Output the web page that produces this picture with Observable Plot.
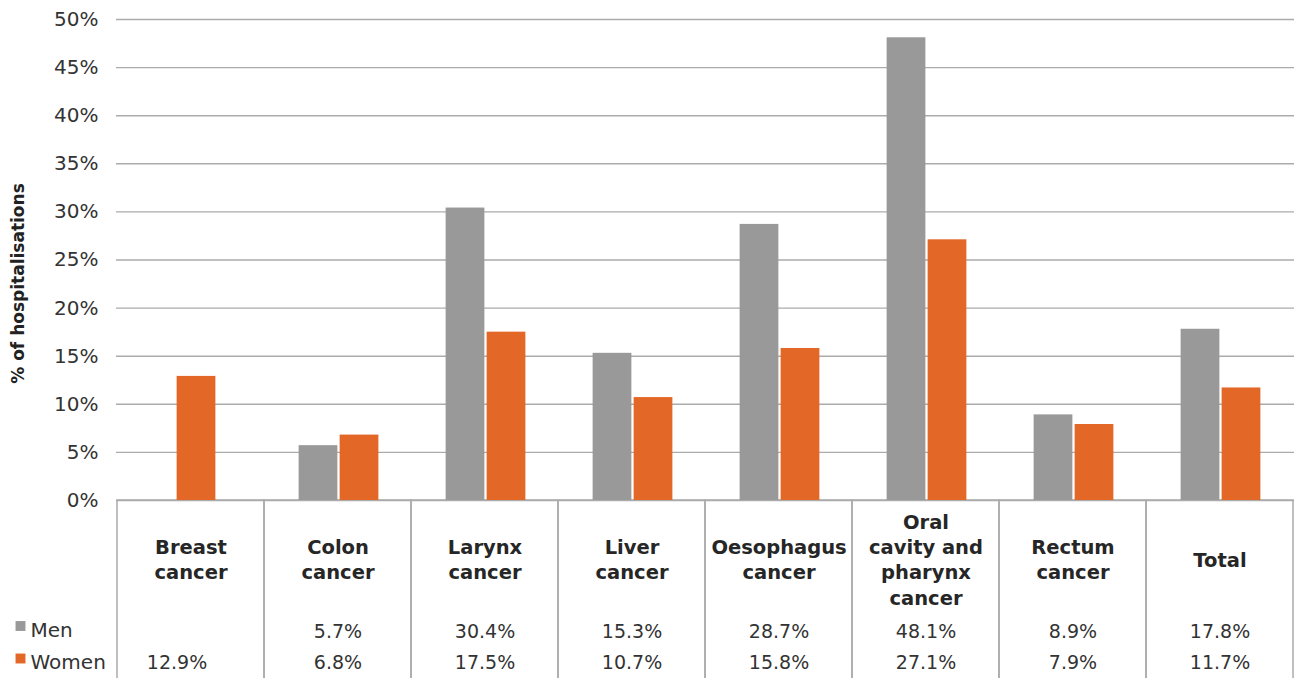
<!DOCTYPE html>
<html>
<head>
<meta charset="utf-8">
<script src="https://cdn.jsdelivr.net/npm/d3@7"></script>
<script src="https://cdn.jsdelivr.net/npm/@observablehq/plot@0.6"></script>
<style>
  html, body { margin: 0; padding: 0; background: #fff; }
  #chart svg { display: block; overflow: visible; }
</style>
</head>
<body>
<div id="chart"></div>
<script>
const categories = ["Breast cancer", "Colon cancer", "Larynx cancer", "Liver cancer", "Oesophagus cancer", "Oral cavity and pharynx cancer", "Rectum cancer", "Total"];
const headerLabels = ["Breast\ncancer", "Colon\ncancer", "Larynx\ncancer", "Liver\ncancer", "Oesophagus\ncancer", "Oral\ncavity and\npharynx\ncancer", "Rectum\ncancer", "Total"];
const menValues = [null, 5.7, 30.4, 15.3, 28.7, 48.1, 8.9, 17.8];
const womenValues = [12.9, 6.8, 17.5, 10.7, 15.8, 27.1, 7.9, 11.7];
const yTicks = [0, 5, 10, 15, 20, 25, 30, 35, 40, 45, 50];
const seriesNames = ["Men", "Women"];
const seriesColors = ["#999999", "#e36828"];
const yLabel = "% of hospitalisations";

const W = 1295, H = 678;
const mL = 116, mR = 1, mT = 19, mB = 178;
const bw = (W - mL - mR) / categories.length;
const barW = 39, gap = 2, shift = 1;
const pxPerUnit = (H - mT - mB) / 50;
const tableBottom = -(mB + 2) / pxPerUnit;

const rows = categories.map((c, i) => ({category: c, header: headerLabels[i], men: menValues[i], women: womenValues[i]}));
const paired = rows.filter(d => d.men != null);
const single = rows.filter(d => d.men == null);
const pct = v => v.toFixed(1) + "%";
const font = "DejaVu Sans, sans-serif";
const textColor = "#333333";

const plot = Plot.plot({
  width: W, height: H,
  marginLeft: mL, marginRight: mR, marginTop: mT, marginBottom: mB,
  style: {fontFamily: font, fontSize: "19px", color: textColor, background: "#fff"},
  x: {type: "band", domain: categories, padding: 0, axis: null},
  y: {domain: [0, 50], axis: null},
  marks: [
    // table cells
    Plot.barY(rows, {x: "category", y1: 0, y2: tableBottom, fill: "none", stroke: "#ababab", strokeWidth: 1.5}),
    Plot.gridY(yTicks, {stroke: "#ababab", strokeOpacity: 1, strokeWidth: 1.4}),
    Plot.axisY({ticks: yTicks, tickFormat: d => d + "%", tickSize: 0, tickPadding: 18, fontSize: 20, fill: textColor, label: null}),
    // bars
    Plot.barY(paired, {x: "category", y: "men", fill: seriesColors[0], insetLeft: bw / 2 - gap / 2 - barW + shift, insetRight: bw / 2 + gap / 2 - shift}),
    Plot.barY(paired, {x: "category", y: "women", fill: seriesColors[1], insetLeft: bw / 2 + gap / 2 + shift, insetRight: bw / 2 - gap / 2 - barW - shift}),
    Plot.barY(single, {x: "category", y: "women", fill: seriesColors[1], insetLeft: bw / 2 - 14, insetRight: bw / 2 - barW + 14}),
    // y label
    Plot.text([yLabel], {frameAnchor: "left", textAnchor: "middle", lineAnchor: "middle", rotate: -90, dx: -98, dy: 23.5, fontWeight: "bold", fontSize: 17, fill: "#222"}),
    // table header
    Plot.text(rows, {x: "category", frameAnchor: "bottom", dy: 58, text: "header", lineAnchor: "middle", fontWeight: "bold", fontSize: 19.5, lineHeight: 1.3, fill: "#262626", style: "letter-spacing:0.6px"}),
    // table values
    Plot.text(paired, {x: "category", frameAnchor: "bottom", dy: 131, text: d => pct(d.men), lineAnchor: "middle", fontSize: 19, fill: textColor}),
    Plot.text(paired, {x: "category", frameAnchor: "bottom", dy: 162, text: d => pct(d.women), lineAnchor: "middle", fontSize: 19, fill: textColor}),
    Plot.text(single, {x: "category", frameAnchor: "bottom", dx: -14, dy: 162, text: d => pct(d.women), lineAnchor: "middle", fontSize: 19, fill: textColor}),
    // row labels with legend swatches
    Plot.dot([seriesNames[0]], {frameAnchor: "bottom-left", dx: -96, dy: 125.5, symbol: "square", r: 5.6, fill: seriesColors[0]}),
    Plot.dot([seriesNames[1]], {frameAnchor: "bottom-left", dx: -96, dy: 158, symbol: "square", r: 5.6, fill: seriesColors[1]}),
    Plot.text([seriesNames[0]], {frameAnchor: "bottom-left", textAnchor: "start", lineAnchor: "middle", dx: -86, dy: 130, text: d => d, fontSize: 20, fill: textColor}),
    Plot.text([seriesNames[1]], {frameAnchor: "bottom-left", textAnchor: "start", lineAnchor: "middle", dx: -86, dy: 162, text: d => d, fontSize: 20, fill: textColor})
  ]
});
document.getElementById("chart").appendChild(plot);
</script>
</body>
</html>
